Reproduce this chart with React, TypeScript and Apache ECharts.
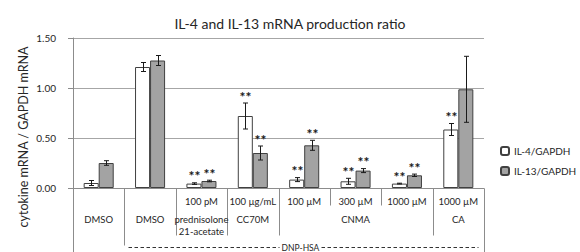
import React, { useEffect, useRef } from 'react';
import * as echarts from 'echarts';

// ---- data ----
const categories = [
  'DMSO',
  'DMSO + DNP-HSA',
  'prednisolone 21-acetate 100 pM',
  'CC70M 100 µg/mL',
  'CNMA 100 µM',
  'CNMA 300 µM',
  'CNMA 1000 µM',
  'CA 1000 µM',
];
const doseLabels = ['', '', '100 pM', '100 µg/mL', '100 µM', '300 µM', '1000 µM', '1000 µM'];
const agentLabels = ['DMSO', 'DMSO', 'prednisolone\n21-acetate', 'CC70M', '', 'CNMA', '', 'CA'];
const groupLabel = 'DNP-HSA';
const seriesNames = ['IL-4/GAPDH', 'IL-13/GAPDH'];
const il4 = [0.05, 1.21, 0.044, 0.72, 0.084, 0.067, 0.044, 0.585];
const il4Err = [0.025, 0.045, 0.008, 0.13, 0.02, 0.03, 0.004, 0.06];
const il13 = [0.25, 1.275, 0.07, 0.35, 0.427, 0.174, 0.127, 0.987];
const il13Err = [0.023, 0.05, 0.008, 0.07, 0.05, 0.02, 0.012, 0.33];
const il4Sig = ['', '', '**', '**', '**', '**', '**', '**'];
const il13Sig = ['', '', '**', '**', '**', '**', '**', ''];
const yMin = 0;
const yMax = 1.5;
const yStep = 0.5;

// ---- layout / style ----
const FONT = 'Lato, "Open Sans", sans-serif';
const TEXT = '#262626';
const LINE = '#8c8c8c';
const GRID = { left: 73, right: 96, top: 38, bottom: 64 };
const CAT_GAP = 0.415;
// depth (px below the zero line) of each category boundary line
const boundaryDepth = [64, 57, 47, 47, 47, 17, 17, 47, 64];

function errorSeries(vals: number[], errs: number[], sigs: string[], side: number) {
  return {
    type: 'custom',
    xAxisIndex: 0,
    yAxisIndex: 0,
    data: vals.map((v, i) => [i, v, errs[i]]),
    encode: { x: 0, y: 1 },
    z: 10,
    silent: true,
    renderItem: (params: any, api: any) => {
      const i = api.value(0);
      const v = api.value(1);
      const e = api.value(2);
      const band = api.size([1, 0])[0];
      const barW = (band * (1 - CAT_GAP)) / 2;
      const cx = Math.round(api.coord([i, v])[0] + (side * barW) / 2) + 0.5;
      const yt = api.coord([i, v + e])[1];
      const yb = api.coord([i, v - e])[1];
      const cap = 2.5;
      const st = { stroke: '#1a1a1a', lineWidth: 1 };
      const children: any[] = [
        { type: 'line', shape: { x1: cx, y1: yt, x2: cx, y2: yb }, style: st },
        { type: 'line', shape: { x1: cx - cap, y1: yt, x2: cx + cap, y2: yt }, style: st },
        { type: 'line', shape: { x1: cx - cap, y1: yb, x2: cx + cap, y2: yb }, style: st },
      ];
      const s = sigs[params.dataIndex];
      if (s) {
        children.push({
          type: 'text',
          style: {
            text: s,
            x: cx,
            y: yt,
            align: 'center',
            verticalAlign: 'bottom',
            textAlign: 'center',
            textVerticalAlign: 'bottom',
            fontSize: 14,
            fontWeight: 'bold',
            fontFamily: FONT,
            fill: '#1a1a1a',
          },
        });
      }
      return { type: 'group', children };
    },
  };
}

export default function App() {
  const ref = useRef<HTMLDivElement>(null);

  useEffect(() => {
    if (!ref.current) return;
    const chart = echarts.init(ref.current, null, { renderer: 'svg' });
    const labelStyle = { fontFamily: FONT, fontSize: 9.5, color: TEXT, lineHeight: 12 };
    chart.setOption({
      animation: false,
      title: {
        text: 'IL-4 and IL-13 mRNA production ratio',
        left: 'center',
        top: 11,
        textStyle: { fontFamily: FONT, fontSize: 14, fontWeight: 'normal', color: TEXT },
      },
      legend: {
        orient: 'vertical',
        left: 495,
        top: 141,
        itemWidth: 8,
        itemHeight: 8,
        itemGap: 10,
        data: seriesNames,
        textStyle: { fontFamily: FONT, fontSize: 10, color: TEXT },
      },
      grid: { ...GRID },
      xAxis: [
        {
          type: 'category',
          data: categories,
          position: 'bottom',
          axisLine: { show: true, lineStyle: { color: LINE } },
          axisTick: { show: false },
          splitLine: { show: false },
          axisLabel: {
            ...labelStyle,
            interval: 0,
            margin: 7,
            formatter: (_v: string, idx: number) => doseLabels[idx],
          },
        },
        {
          type: 'category',
          data: categories,
          position: 'bottom',
          axisLine: { show: false },
          axisTick: { show: false },
          splitLine: { show: false },
          axisLabel: {
            ...labelStyle,
            interval: 0,
            margin: 25,
            formatter: (_v: string, idx: number) => agentLabels[idx],
          },
        },
      ],
      yAxis: {
        type: 'value',
        min: yMin,
        max: yMax,
        interval: yStep,
        axisLine: { show: true, lineStyle: { color: LINE } },
        axisTick: { show: true, length: 5, lineStyle: { color: LINE } },
        splitLine: { show: true, lineStyle: { color: '#a6a6a6' } },
        axisLabel: {
          fontFamily: FONT,
          fontSize: 10,
          color: TEXT,
          margin: 17,
          formatter: (v: number) => v.toFixed(2),
        },
      },
      series: [
        {
          name: seriesNames[0],
          type: 'bar',
          data: il4,
          barGap: '0%',
          barCategoryGap: `${CAT_GAP * 100}%`,
          itemStyle: { color: '#ffffff', borderColor: '#404040', borderWidth: 1 },
        },
        {
          name: seriesNames[1],
          type: 'bar',
          data: il13,
          barGap: '0%',
          barCategoryGap: `${CAT_GAP * 100}%`,
          itemStyle: { color: '#a3a3a3', borderColor: '#404040', borderWidth: 1 },
        },
        errorSeries(il4, il4Err, il4Sig, -1),
        errorSeries(il13, il13Err, il13Sig, 1),
      ],
    });

    // table lines under the axis, derived from the axis scales
    const c0 = chart.convertToPixel({ xAxisIndex: 0 }, 0) as number;
    const c1 = chart.convertToPixel({ xAxisIndex: 0 }, 1) as number;
    const band = c1 - c0;
    const boundary = (i: number) => Math.round(c0 - band / 2 + i * band) + 0.5;
    const y0 = Math.round(chart.convertToPixel({ yAxisIndex: 0 }, 0) as number) + 0.5;
    const elements: any[] = boundaryDepth.map((d, i) => ({
      type: 'line',
      shape: { x1: boundary(i), y1: y0, x2: boundary(i), y2: y0 + d },
      style: { stroke: LINE, lineWidth: 1 },
      silent: true,
    }));
    const dashY = y0 + 59;
    const textX = (boundary(1) + boundary(8)) / 2 - 4;
    const dash = { stroke: '#333', lineWidth: 1, lineDash: [3.5, 2.5] };
    elements.push(
      { type: 'line', shape: { x1: boundary(1) + 4, y1: dashY, x2: textX - 21, y2: dashY }, style: dash, silent: true },
      { type: 'line', shape: { x1: textX + 21, y1: dashY, x2: boundary(8) - 6, y2: dashY }, style: dash, silent: true },
      {
        type: 'text',
        x: textX,
        y: dashY,
        style: { text: groupLabel, fontFamily: FONT, fontSize: 8.5, fill: TEXT, align: 'center', verticalAlign: 'middle', textAlign: 'center', textVerticalAlign: 'middle' },
        silent: true,
      },
      {
        type: 'text',
        x: 23,
        y: 137,
        rotation: Math.PI / 2,
        style: { text: 'cytokine mRNA / GAPDH mRNA', fontFamily: FONT, fontSize: 12.5, fill: TEXT, align: 'center', verticalAlign: 'middle', textAlign: 'center', textVerticalAlign: 'middle' },
        silent: true,
      }
    );
    chart.setOption({ graphic: { elements } });

    return () => chart.dispose();
  }, []);

  return (
    <div
      ref={ref}
      style={{ position: 'fixed', left: 0, top: 0, width: 580, height: 252, background: '#ffffff' }}
    />
  );
}
